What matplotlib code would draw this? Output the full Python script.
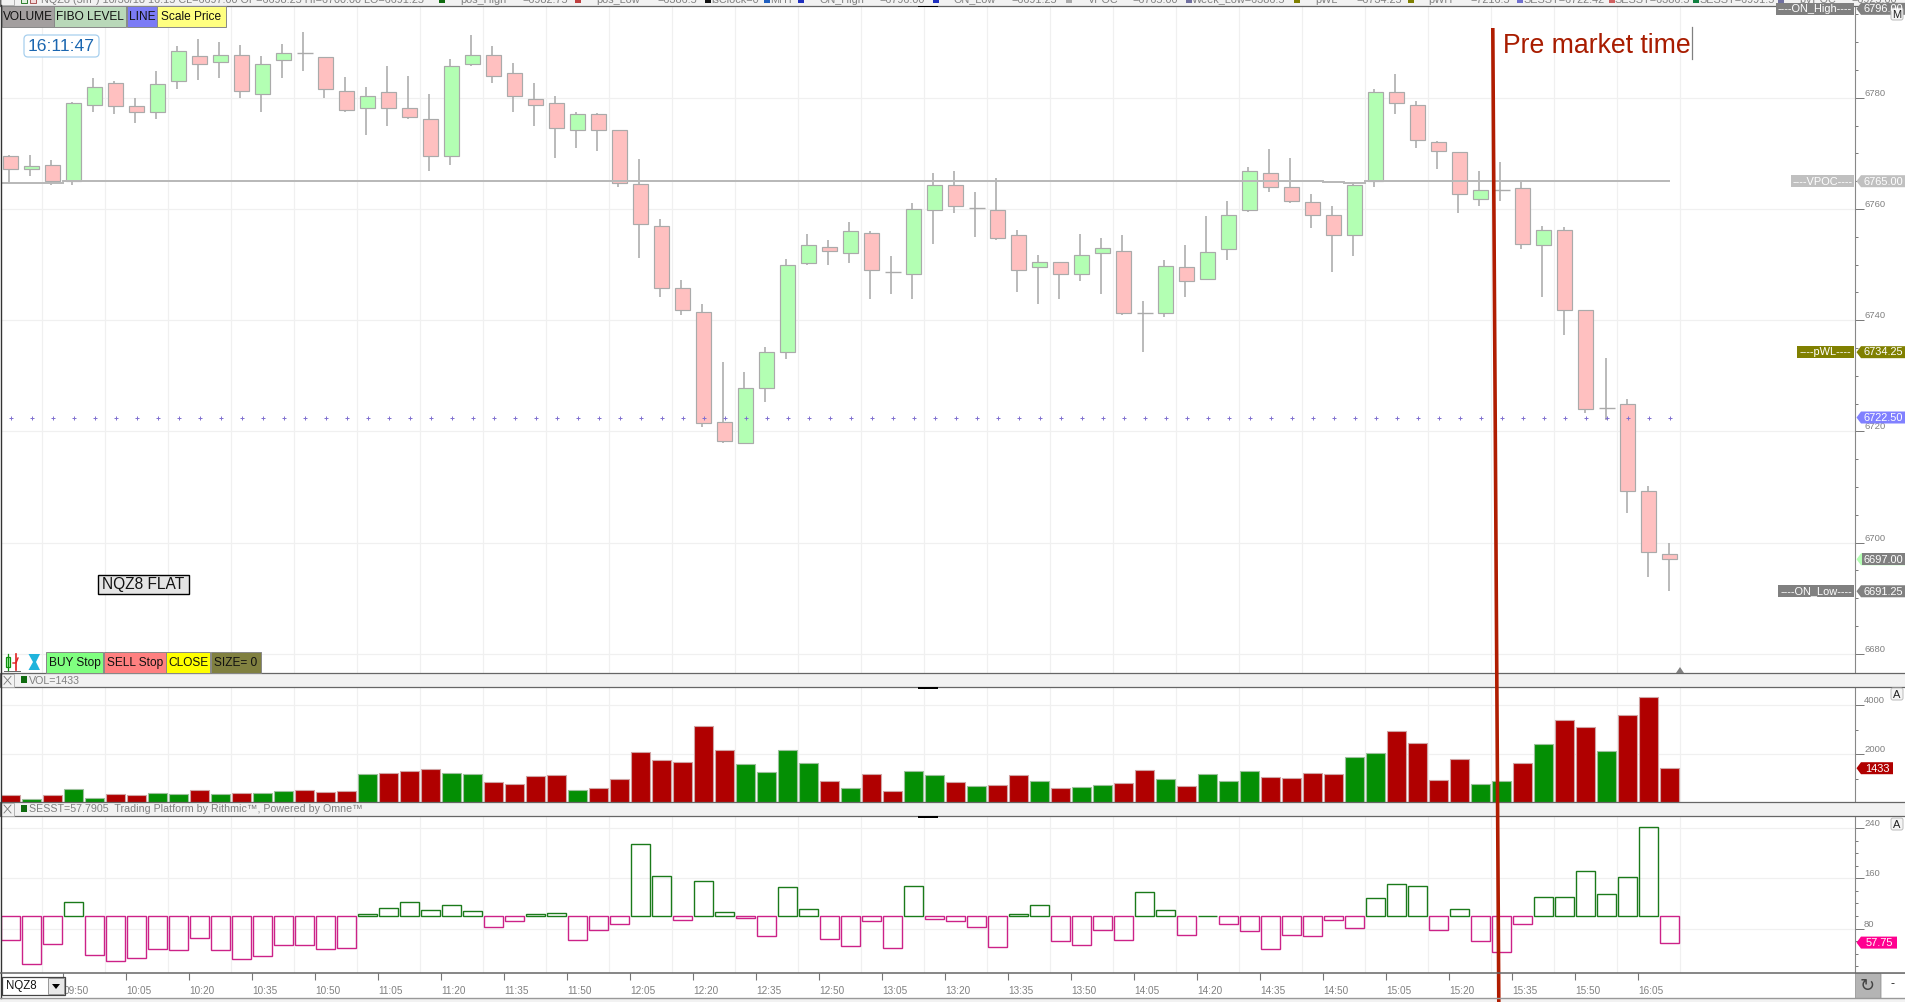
import matplotlib

matplotlib.use("Agg")

import matplotlib.pyplot as plt
import numpy as np
from matplotlib.patches import FancyBboxPatch, Polygon, Rectangle

plt.rcParams["font.family"] = ["Liberation Sans", "DejaVu Sans"]

FIG_W, FIG_H = 1906, 1002

opens = [
    6769.5, 6767.25, 6768, 6765, 6778.75, 6782.75, 6778.5, 6777.5, 6783, 6787.5,
    6786.5, 6787.75, 6780.75, 6786.75, 6788, 6787.25, 6781.25, 6778.25, 6781, 6778.25,
    6776.25, 6769.5, 6786, 6787.75, 6784.5, 6779.75, 6779, 6774.25, 6777, 6774.25,
    6764.5, 6757, 6745.75, 6741.5, 6721.75, 6718, 6727.75, 6734.25, 6750.25, 6753.25,
    6752, 6755.75, 6748.75, 6748.25, 6759.75, 6764.25, 6760.25, 6759.75, 6755.25, 6749.5,
    6750.5, 6748.25, 6752, 6752.5, 6741.25, 6741.25, 6749.5, 6747.5, 6752.75, 6759.75,
    6766.5, 6764, 6761.25, 6759, 6755.25, 6765, 6781, 6778.75, 6772, 6770.25,
    6761.75, 6763.5, 6763.75, 6753.5, 6756.25, 6741.75, 6724.25, 6725, 6709.25, 6698,
]
closes = [
    6767.25, 6767.75, 6765, 6779, 6782, 6778.5, 6777.5, 6782.5, 6788.5, 6786,
    6787.75, 6781.25, 6786, 6788, 6788, 6781.5, 6777.75, 6780.25, 6778.25, 6776.5,
    6769.5, 6785.75, 6787.75, 6784, 6780.25, 6778.75, 6774.5, 6777, 6774.25, 6764.75,
    6757.25, 6745.75, 6741.75, 6721.5, 6718.25, 6727.75, 6734.25, 6750, 6753.5, 6752.5,
    6756, 6749, 6748.75, 6760, 6764.25, 6760.5, 6760.25, 6754.75, 6749, 6750.5,
    6748.25, 6751.75, 6753, 6741.25, 6741.25, 6749.75, 6747, 6752.25, 6759, 6766.75,
    6764, 6761.5, 6759, 6755.25, 6764.25, 6781, 6779, 6772.5, 6770.5, 6762.75,
    6763.5, 6763.5, 6753.75, 6756.25, 6741.75, 6724, 6724.25, 6709.25, 6698.25, 6697,
]
highs = [
    6769.75, 6769.75, 6768.75, 6779.25, 6783.5, 6783, 6780, 6784.75, 6789.25, 6790.5,
    6790, 6789.5, 6787.5, 6789.75, 6791.75, 6787.25, 6783.75, 6782, 6785.75, 6784,
    6780.75, 6787, 6791.25, 6789.25, 6786.25, 6782.75, 6780.25, 6777.5, 6777.25, 6774.25,
    6769, 6758.25, 6747.25, 6743, 6732.5, 6730.75, 6735.25, 6751, 6755.5, 6754.5,
    6757.75, 6756, 6751.5, 6761, 6766.5, 6766.75, 6763, 6765.5, 6756.25, 6751.75,
    6750.5, 6755.5, 6754.75, 6755.25, 6743.5, 6750.75, 6753.5, 6758.75, 6761.5, 6767.5,
    6770.75, 6769.25, 6762.75, 6760.5, 6764.75, 6781.5, 6784.25, 6779.5, 6772.25, 6770.25,
    6766.75, 6768.5, 6765, 6757, 6756.75, 6741.75, 6733.25, 6725.75, 6710.25, 6700,
]
lows = [
    6764.75, 6766, 6764.25, 6764.25, 6777.5, 6777, 6775.5, 6776.25, 6781.5, 6783.25,
    6783.5, 6780, 6777.5, 6783.5, 6784.75, 6780, 6777.5, 6773.25, 6775, 6776.25,
    6766.75, 6768, 6785.75, 6782.75, 6777.5, 6775, 6769.25, 6771, 6770.5, 6764,
    6751.25, 6744.25, 6741, 6720.75, 6718, 6718, 6725.25, 6733, 6750, 6750,
    6750.25, 6743.75, 6744.75, 6743.75, 6753.75, 6759.25, 6755, 6754.5, 6745, 6743,
    6743.75, 6747, 6744.75, 6741, 6734.25, 6740.5, 6744.25, 6747.5, 6750.75, 6759.5,
    6763, 6761, 6756.5, 6748.75, 6751.5, 6764, 6777, 6771, 6767.25, 6759.25,
    6760.5, 6761.5, 6752.75, 6744.25, 6737.25, 6723.25, 6722, 6705.25, 6693.75, 6691.25,
]
vpoc_levels = [
    6764.75, 6764.75, 6764.75, 6765, 6765, 6765, 6765, 6765, 6765, 6765,
    6765, 6765, 6765, 6765, 6765, 6765, 6765, 6765, 6765, 6765,
    6765, 6765, 6765, 6765, 6765, 6765, 6765, 6765, 6765, 6765,
    6765, 6765, 6765, 6765, 6765, 6765, 6765, 6765, 6765, 6765,
    6765, 6765, 6765, 6765, 6765, 6765, 6765, 6765, 6765, 6765,
    6765, 6765, 6765, 6765, 6765, 6765, 6765, 6765, 6765, 6765,
    6765, 6765, 6765, 6764.85, 6764.6, 6765, 6765, 6765, 6765, 6765,
    6765, 6765, 6765, 6765, 6765, 6765, 6765, 6765, 6765, 6765,
]
poc_level = 6722.5

volumes = [
    354, 190, 354, 600, 230, 395, 354, 435, 395, 558,
    395, 435, 435, 517, 558, 476, 517, 1210, 1251, 1333,
    1414, 1251, 1210, 884, 802, 1129, 1170, 558, 639, 1006,
    2108, 1782, 1700, 3169, 2190, 1618, 1292, 2190, 1659, 925,
    639, 1210, 517, 1333, 1170, 884, 721, 762, 1170, 925,
    639, 680, 762, 843, 1374, 1006, 721, 1210, 925, 1333,
    1088, 1047, 1251, 1210, 1904, 2067, 2965, 2475, 966, 1822,
    802, 925, 1659, 2434, 3414, 3128, 2149, 3618, 4352, 1433,
]
volume_sides = (
    "rgrggrrggr" "grggrrrgrr" "rggrrrrgrr" "rrrrrggggr"
    "grrggrgrrg" "rggrrgrggg" "rrrrggrrrr" "ggrgrrgrrr"
)

sesst = [
    62, 24.3, 56, 122.9, 38.7, 29, 34, 48, 46.6, 65.7,
    46.6, 32.3, 37, 54.6, 54.6, 48, 49.8, 103.9, 113.4, 122.9,
    110, 118, 108.6, 83.2, 92.7, 103.9, 105.4, 62.5, 78.4, 87.9,
    215, 164, 94.3, 156.3, 107, 97.5, 68.9, 146.8, 111.8, 64,
    53, 92.7, 49.8, 148.4, 95.9, 92.7, 83.2, 51.4, 103.9, 118,
    60.9, 54.6, 78.4, 62.5, 138.8, 110.2, 70.5, 100.2, 87.9, 76.8,
    48.2, 70.5, 68.9, 94.3, 81.6, 129.3, 151.6, 148.4, 78.4, 111.8,
    60.9, 43.4, 87.9, 130.9, 130.9, 172.2, 135.7, 162.7, 242.2, 57.79,
]
sesst_base = 100

time_labels = [
    "09:50", "10:05", "10:20", "10:35", "10:50", "11:05", "11:20", "11:35", "11:50",
    "12:05", "12:20", "12:35", "12:50", "13:05", "13:20", "13:35", "13:50", "14:05",
    "14:20", "14:35", "14:50", "15:05", "15:20", "15:35", "15:50", "16:05",
]

GRID = "#f0f0f0"
AXIS_TEXT = "#808080"
STRIP = "#f2f2f2"
BORDER = "#666666"
CANDLE_EDGE = "#aaaaaa"
SLOPE_RED = "#b01c00"


def panel_axes(fig, x0, y0, x1, y1):
    return fig.add_axes(
        [x0 / FIG_W, 1 - y1 / FIG_H, (x1 - x0) / FIG_W, (y1 - y0) / FIG_H]
    )


def style_panel(ax, ylim, major, minor, grid_x):
    ax.set_xlim(-0.46, 87.82)
    ax.set_ylim(*ylim)
    ax.set_facecolor("white")
    for side in ("top", "left", "bottom"):
        ax.spines[side].set_visible(False)
    ax.spines["right"].set_color("#888888")
    ax.spines["right"].set_linewidth(0.8)
    ax.yaxis.tick_right()
    ax.set_yticks(major)
    ax.set_yticks(minor, minor=True)
    ax.set_xticks(grid_x, minor=True)
    ax.set_xticks([])
    ax.tick_params(axis="y", which="major", length=6.5, width=0.7, color="#777777",
                   labelsize=6.8, labelcolor=AXIS_TEXT, pad=0)
    ax.tick_params(axis="y", which="minor", length=2.5, width=0.7, color="#777777")
    ax.tick_params(axis="x", which="minor", length=0)
    ax.grid(True, which="major", axis="y", color=GRID, linewidth=0.9)
    ax.grid(True, which="minor", axis="x", color=GRID, linewidth=0.9)
    ax.set_axisbelow(True)
    for label in ax.get_yticklabels():
        label.set_verticalalignment("bottom")


def draw_candles(ax, bars):
    o = np.array(opens)
    c = np.array(closes)
    ax.vlines(bars - 0.06, lows, highs, color=CANDLE_EDGE, linewidth=1.15, zorder=2)
    up = c > o
    down = c < o
    flat = c == o
    ax.bar(bars[up], (c - o)[up], bottom=o[up], width=0.72, color="#b3ffb3",
           edgecolor=CANDLE_EDGE, linewidth=0.85, zorder=3)
    ax.bar(bars[down], (o - c)[down], bottom=c[down], width=0.72, color="#ffc0c0",
           edgecolor=CANDLE_EDGE, linewidth=0.85, zorder=3)
    ax.hlines(o[flat], bars[flat] - 0.38, bars[flat] + 0.38, color=CANDLE_EDGE,
              linewidth=1.0, zorder=3)


def y_on_overlay(ax, value):
    return FIG_H - ax.transData.transform((0, value))[1]


def price_tag(over, ax, value, text, color, x1=1905, tip=None, tsize=7.9, tcolor="white"):
    y = y_on_overlay(ax, value)
    h = 6
    over.add_patch(Polygon(
        [(1856.5, y), (1861, y - h), (x1, y - h), (x1, y + h), (1861, y + h)],
        closed=True, facecolor=tip or color, edgecolor="none",
    ))
    if tip:
        over.add_patch(Rectangle((1862, y - h), x1 - 1862, 2 * h, facecolor=color,
                                 edgecolor="none"))
    over.text((1862 + x1) / 2, y + 0.3, text, color=tcolor, fontsize=tsize,
              ha="center", va="center")


def name_tag(over, ax, value, text, color, x0):
    y = y_on_overlay(ax, value)
    over.add_patch(Rectangle((x0, y - 6), 1854 - x0, 12, facecolor=color, edgecolor="none"))
    over.text((x0 + 1854) / 2, y + 0.3, text, color="white", fontsize=7.9,
              ha="center", va="center")


def button(over, x0, y0, x1, y1, color, text, size=8.6):
    over.add_patch(Rectangle((x0, y0), x1 - x0, y1 - y0, facecolor=color,
                             edgecolor="#888888", linewidth=0.7))
    over.text((x0 + x1) / 2, (y0 + y1) / 2 + 0.3, text, color="#111111", fontsize=size,
              ha="center", va="center")


def draw_strip(over, y0, y1, name):
    over.add_patch(Rectangle((0, y0), FIG_W, y1 - y0, facecolor=STRIP,
                             edgecolor=BORDER, linewidth=0.9))
    over.add_patch(Rectangle((1, y0 + 1), 13, y1 - y0 - 1, facecolor=STRIP,
                             edgecolor="#aaaaaa", linewidth=0.6))
    over.plot([4, 11], [y0 + 3, y1 - 3], color="#777777", linewidth=0.6)
    over.plot([4, 11], [y1 - 3, y0 + 3], color="#777777", linewidth=0.6)
    over.add_patch(Rectangle((21, y0 + 3), 6.5, 7, facecolor="#0f6b0f", edgecolor="none"))
    over.text(29, (y0 + y1) / 2 + 0.5, name, fontsize=7.7, color=AXIS_TEXT,
              ha="left", va="center")
    over.add_patch(Rectangle((918, y1), 20, 1.6, facecolor="black", edgecolor="none"))


def draw_header(over):
    over.add_patch(Rectangle((0, -2), FIG_W, 7.5, facecolor=STRIP, edgecolor=BORDER,
                             linewidth=0.9))
    over.add_patch(Rectangle((918, 5.5), 20, 1.6, facecolor="black", edgecolor="none"))
    # window controls, cut by the top edge like everything else in this row
    over.add_patch(Rectangle((1, -3), 13, 8, facecolor=STRIP, edgecolor="#aaaaaa", linewidth=0.6))
    over.add_patch(Rectangle((21, -2), 6, 4.5, facecolor="#dff0df", edgecolor="#0f6b0f", linewidth=0.6))
    over.add_patch(Rectangle((30, -2), 6, 4.5, facecolor="#f4dcdc", edgecolor="#a04040", linewidth=0.6))
    pieces = [
        (41, "NQZ8 (3m*) 10/30/18 16:15 CL=6697.00 OP=6698.25 HI=6700.00 LO=6691.25"),
        (460, "pos_High"), (522, "=6982.75"), (596, "pos_Low"), (657, "=6386.5"),
        (711, "isClock=0"), (770, "MHT"), (820, "ON_High"), (879, "=6796.00"),
        (954, "ON_Low"), (1011, "=6691.25"), (1088, "VPOC"), (1132, "=6765.00"),
        (1192, "Week_Low=6386.5"), (1315, "pWL"), (1356, "=6734.25"), (1428, "pWH"),
        (1470, "=7216.5"), (1523, "SESST=6722.42"), (1614, "SESST=6386.5"),
        (1699, "SESST=6991.5"), (1799, "pVPOC"), (1851, "=6925.00"),
    ]
    for x, text in pieces:
        over.text(x, 2.5, text, fontsize=7.8, color=AXIS_TEXT, ha="left", va="baseline")
    squares = [
        (439, "#0f6b0f"), (575, "#c04040"), (705, "#111111"), (764, "#2060c0"),
        (798, "#2030c0"), (933, "#2030c0"), (1066, "#aaaaaa"), (1186, "#7070a0"),
        (1294, "#808000"), (1408, "#808000"), (1517, "#7070d0"), (1609, "#d06060"),
        (1693, "#108040"), (1778, "#7070a0"),
    ]
    for x, color in squares:
        over.add_patch(Rectangle((x, -1), 6, 3.5, facecolor=color, edgecolor="none"))


def draw_icons(over):
    # candle icon
    over.add_patch(Rectangle((6.5, 657), 4, 10, facecolor="#b3ffb3", edgecolor="#109010",
                             linewidth=0.9))
    over.plot([8.5, 8.5], [654, 671], color="#109010", linewidth=0.9)
    over.plot([16, 16], [654, 670], color="#e02020", linewidth=1.2)
    over.plot([13, 16, 18], [663, 663, 658], color="#e02020", linewidth=1.0)
    over.plot([4, 20], [671, 671], color="#666666", linewidth=0.7)
    # hourglass
    over.add_patch(Polygon([(28.5, 654), (40, 654), (36, 662), (40, 670), (28.5, 670), (33, 662)],
                           closed=True, facecolor="#20b4dc", edgecolor="none"))


def main():
    fig = plt.figure(figsize=(FIG_W / 100, FIG_H / 100), dpi=100, facecolor="white")
    bars = np.arange(len(opens))
    grid_x = np.arange(2, 81, 3) - 0.5
    tick_x = np.arange(3, 79, 3) - 0.5

    ax_price = panel_axes(fig, 1, 5.5, 1855, 673)
    style_panel(ax_price, (6676.55, 6796.6), [6680, 6700, 6720, 6740, 6760, 6780],
                np.array([6685, 6690, 6695, 6705, 6710, 6715, 6725, 6730, 6735,
                          6745, 6750, 6755, 6765, 6770, 6775, 6785, 6790, 6795]), grid_x)
    draw_candles(ax_price, bars)
    edges = np.append(bars - 0.5, 79.0)
    ax_price.stairs(vpoc_levels, edges, baseline=None, color="#b8b8b8", linewidth=1.4, zorder=4)
    ax_price.scatter(bars, [poc_level] * len(bars), marker="+", s=5, linewidths=0.7,
                     color="#8070d0", zorder=5)

    ax_vol = panel_axes(fig, 1, 687.5, 1855, 802)
    style_panel(ax_vol, (54, 4727), [2000, 4000], [1000, 3000], grid_x)
    vol_colors = ["#048f04" if s == "g" else "#b00000" for s in volume_sides]
    vol_edges = ["#9cc09c" if s == "g" else "#d0a4a4" for s in volume_sides]
    ax_vol.bar(bars, volumes, width=0.91, color=vol_colors, edgecolor=vol_edges,
               linewidth=0.8, zorder=3)

    ax_sess = panel_axes(fig, 1, 816.5, 1855, 973)
    style_panel(ax_sess, (9.4, 258.3), [80, 160, 240],
                [20, 40, 60, 100, 120, 140, 180, 200, 220], grid_x)
    sess = np.array(sesst, dtype=float)
    sess_edges = ["#1a7a1a" if v >= sesst_base else "#cc2288" for v in sess]
    ax_sess.bar(bars, sess - sesst_base, bottom=sesst_base, width=0.91, fill=False,
                edgecolor=sess_edges, linewidth=1.0, zorder=3)
    ax_sess.set_xticks(tick_x)
    ax_sess.set_xticklabels(time_labels)
    ax_sess.tick_params(axis="x", which="major", length=5, width=0.8, color="#777777",
                        labelsize=7.2, labelcolor=AXIS_TEXT, pad=4.5)
    for label in ax_sess.get_xticklabels():
        label.set_horizontalalignment("left")
    ax_sess.grid(False, which="major", axis="x")

    # everything that is chrome rather than data goes on a full-figure pixel overlay
    over = fig.add_axes([0, 0, 1, 1], zorder=5)
    over.set_xlim(0, FIG_W)
    over.set_ylim(FIG_H, 0)
    over.axis("off")
    over.patch.set_alpha(0)

    draw_header(over)
    draw_strip(over, 673.3, 687.3, "VOL=1433")
    draw_strip(over, 802, 816, "SESST=57.7905  Trading Platform by Rithmic™, Powered by Omne™")
    over.plot([0.7, 0.7], [5, 998], color="#333333", linewidth=1.0)

    button(over, 2, 6, 54, 27, "#a39f9f", "VOLUME")
    button(over, 54, 6, 126, 27, "#b9d8b9", "FIBO LEVEL")
    button(over, 127, 6, 157, 27, "#7b7bf5", "LINE")
    button(over, 157, 6, 226, 27, "#ffff80", "Scale Price")
    button(over, 46, 652, 103, 673, "#80ff80", "BUY Stop")
    button(over, 104, 652, 166, 673, "#ff8080", "SELL Stop")
    button(over, 166, 652, 210, 673, "#ffff00", "CLOSE")
    button(over, 211, 652, 261, 673, "#808040", "SIZE= 0")
    draw_icons(over)

    over.add_patch(FancyBboxPatch((26, 37), 71, 18, boxstyle="round,pad=2,rounding_size=4",
                                  facecolor="white", edgecolor="#a8d0ee", linewidth=0.9))
    over.text(61.5, 46.5, "16:11:47", color="#1a66b0", fontsize=12.6, ha="center", va="center")

    over.add_patch(Rectangle((98, 575), 91, 19, facecolor="#e4e4e4", edgecolor="black",
                             linewidth=1.0))
    over.text(143.5, 585, "NQZ8 FLAT", color="#111111", fontsize=11.2, ha="center", va="center")

    # drawn annotation on the chart
    over.plot([1492.8, 1498.8], [28, 1002], color=SLOPE_RED, linewidth=2.6,
              solid_capstyle="butt")
    over.text(1503, 53, "Pre market time", color="#a81c00", fontsize=19.2, ha="left",
              va="baseline")
    over.plot([1692.5, 1692.5], [27, 59], color="#808080", linewidth=0.9)
    over.add_patch(Polygon([(1676, 673), (1680, 667), (1684, 673)], closed=True,
                           facecolor="#808080", edgecolor="none"))

    name_tag(over, ax_price, 6796, "----ON_High----", "#808080", 1776)
    name_tag(over, ax_price, 6765, "----VPOC----", "#c0c0c0", 1791)
    name_tag(over, ax_price, 6734.25, "----pWL----", "#808000", 1797)
    name_tag(over, ax_price, 6691.25, "----ON_Low----", "#808080", 1778)
    price_tag(over, ax_price, 6796, "6796.00", "#808080")
    price_tag(over, ax_price, 6765, "6765.00", "#c0c0c0")
    price_tag(over, ax_price, 6734.25, "6734.25", "#808000")
    price_tag(over, ax_price, 6722.5, "6722.50", "#8080ff")
    price_tag(over, ax_price, 6697, "6697.00", "#808080", tip="#b3ffb3")
    price_tag(over, ax_price, 6691.25, "6691.25", "#808080")
    price_tag(over, ax_vol, volumes[-1], "1433", "#b00000", x1=1893)
    price_tag(over, ax_sess, 57.75, "57.75", "#ff0090", x1=1897)

    for y0, text in ((8, "M"), (688, "A"), (818, "A")):
        over.add_patch(FancyBboxPatch((1892, y0 + 1), 10, 10, boxstyle="round,pad=1,rounding_size=2",
                                      facecolor="#f4f4f4", edgecolor="#bbbbbb", linewidth=0.7))
        over.text(1897, y0 + 6.5, text, fontsize=8, color="#222222", ha="center", va="center")

    # bottom bar
    over.plot([0, FIG_W], [973, 973], color=BORDER, linewidth=1.1)
    over.plot([0, FIG_W], [998, 998], color="#999999", linewidth=1.0)
    over.add_patch(Rectangle((0, 998.5), FIG_W, 4, facecolor=STRIP, edgecolor="none"))
    over.add_patch(Rectangle((2, 977), 63, 18, facecolor="white", edgecolor="#444444", linewidth=0.9))
    over.add_patch(Rectangle((48, 978), 16, 16, facecolor="#e8e8e8", edgecolor="#888888", linewidth=0.6))
    over.add_patch(Polygon([(52, 984), (60, 984), (56, 989)], closed=True, facecolor="black",
                           edgecolor="none"))
    over.text(6, 986.5, "NQZ8", fontsize=8.3, color="#111111", ha="left", va="center")
    over.add_patch(Rectangle((1855, 973), 25, 25, facecolor="#b4b4b4", edgecolor="#999999", linewidth=0.6))
    over.text(1867.5, 985.5, "↻", fontsize=13, color="#444444", ha="center", va="center",
              family="DejaVu Sans")
    over.add_patch(Rectangle((1881, 973), 24, 25, facecolor="white", edgecolor="#cccccc", linewidth=0.6))
    over.text(1893, 984, "-", fontsize=9, color="#222222", ha="center", va="center")

    fig.savefig("out.png", dpi=100)
    plt.close(fig)


if __name__ == "__main__":
    main()
